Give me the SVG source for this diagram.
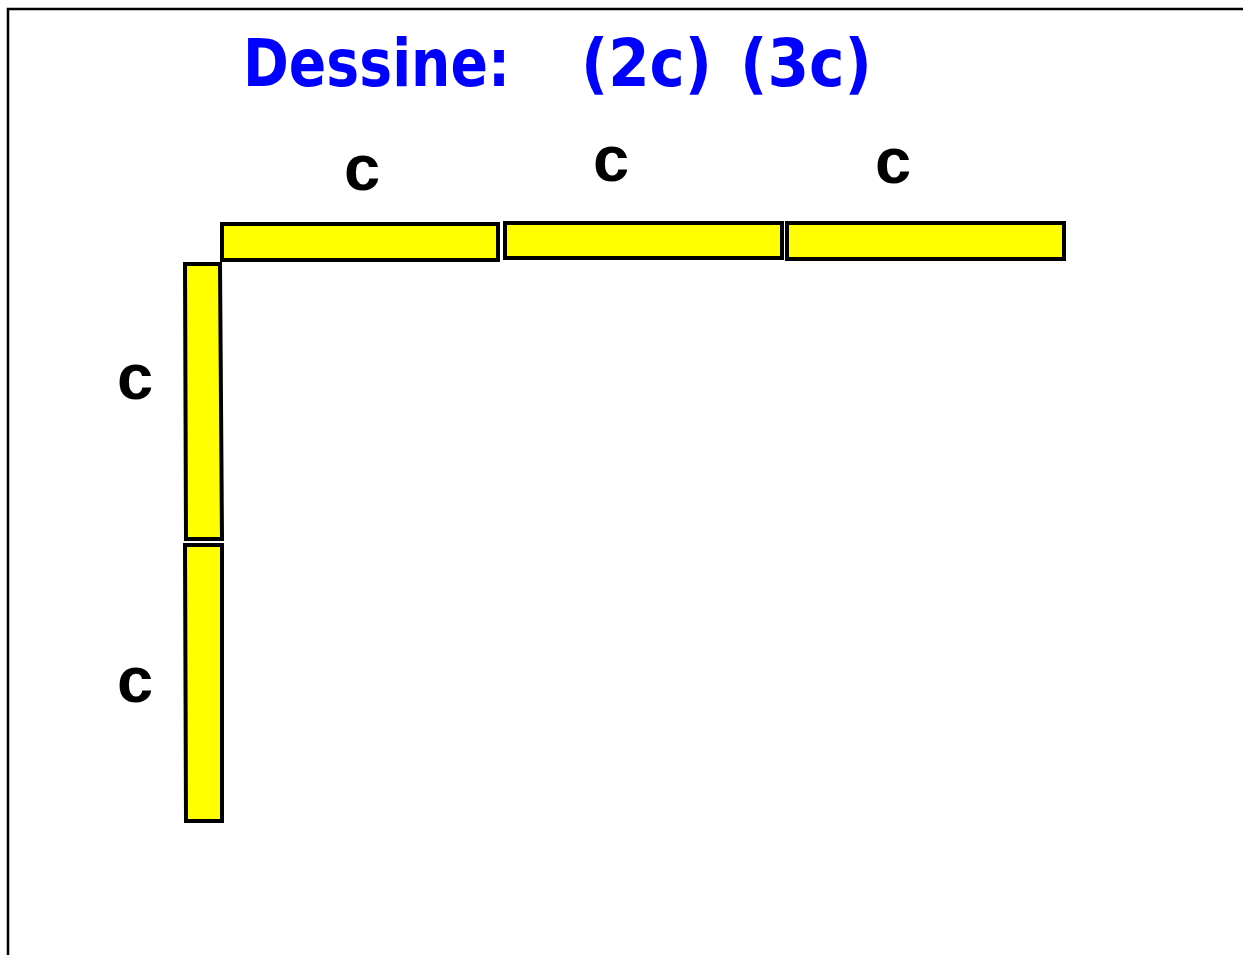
<svg xmlns="http://www.w3.org/2000/svg" width="1243" height="955" viewBox="0 0 1243 955">
  <style>
    .bar { fill: #ffff00; stroke: #000000; stroke-width: 4; }
    .lbl { font-family: "Liberation Sans", Arial, sans-serif; font-weight: bold; font-size: 65px; fill: #000000; text-anchor: middle; }
    .title { font-family: "Comic Sans MS", "DejaVu Sans", sans-serif; font-weight: bold; font-size: 66px; fill: #0000ff; }
  </style>
  <rect x="0" y="0" width="1243" height="955" fill="#ffffff"/>
  <!-- frame -->
  <path d="M8 955 V9 H1243" fill="none" stroke="#000000" stroke-width="2.5"/>
  <!-- heading -->
  <g id="title">
    <text class="title" y="86"><tspan x="243" textLength="267" lengthAdjust="spacingAndGlyphs">Dessine:</tspan><tspan x="581" textLength="131" lengthAdjust="spacingAndGlyphs">(2c)</tspan><tspan x="740" textLength="132" lengthAdjust="spacingAndGlyphs">(3c)</tspan></text>
  </g>
  <!-- horizontal rods -->
  <g id="rod-top-1">
    <rect class="bar" x="222" y="224" width="276" height="36"/>
    <text class="lbl" x="362" y="190">c</text>
  </g>
  <g id="rod-top-2">
    <rect class="bar" x="505" y="223" width="277" height="35"/>
    <text class="lbl" x="611" y="181">c</text>
  </g>
  <g id="rod-top-3">
    <rect class="bar" x="787" y="223" width="277" height="36"/>
    <text class="lbl" x="893" y="183">c</text>
  </g>
  <!-- vertical rods -->
  <g id="rod-left-1">
    <polygon class="bar" points="185,264 220,264 222,539 186,539"/>
    <text class="lbl" x="135" y="399">c</text>
  </g>
  <g id="rod-left-2">
    <polygon class="bar" points="185,545 222,545 222,821 186,821"/>
    <text class="lbl" x="135" y="702">c</text>
  </g>
</svg>
